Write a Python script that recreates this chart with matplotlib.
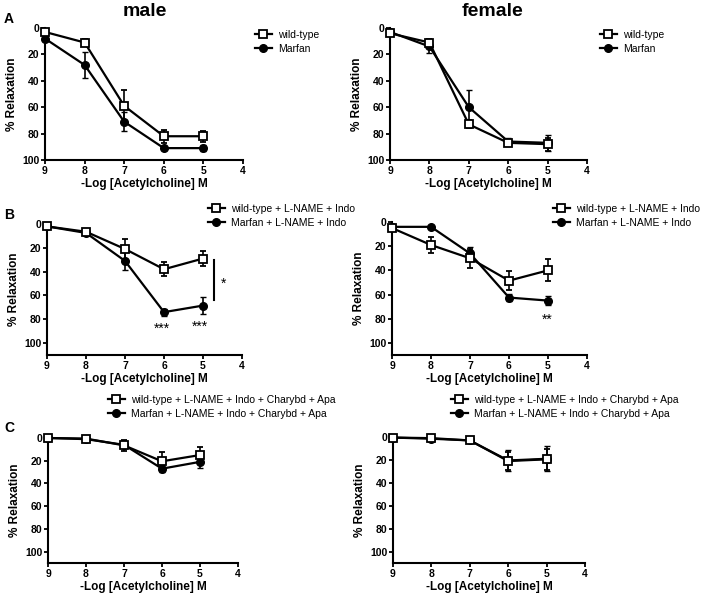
import matplotlib
matplotlib.use('Agg')
import matplotlib.pyplot as plt
from matplotlib.lines import Line2D

plt.rcParams['font.family'] = ['Liberation Sans', 'DejaVu Sans']

log_ach = [9, 8, 7, 6, 5]

# panel A, control
a_male_wt = [3, 11, 59, 82, 82]
a_male_wt_err = [2, 3, 12, 5, 4]
a_male_mfs = [8, 28, 71, 91, 91]
a_male_mfs_err = [2, 10, 7, 1.5, 2]
a_fem_wt = [4, 11, 73, 87, 88]
a_fem_wt_err = [2, 3, 3, 2, 5]
a_fem_mfs = [3, 14, 60, 86, 87]
a_fem_mfs_err = [2, 5, 13, 3, 6]

# panel B, + L-NAME + Indo
b_male_wt = [2, 6.5, 21, 38, 29]
b_male_wt_err = [1, 2, 8, 6, 6]
b_male_mfs = [2, 7.5, 31, 74, 68.5]
b_male_mfs_err = [1, 2, 8, 3, 7]
b_fem_wt = [5, 19, 30, 48.5, 40]
b_fem_wt_err = [2, 7, 8, 8, 9]
b_fem_mfs = [4, 4, 26, 62.5, 65]
b_fem_mfs_err = [1, 1, 5, 3, 4]

# panel C, + L-NAME + Indo + Charybd + Apa
c_male_wt = [0, 0.5, 6.5, 20.5, 15]
c_male_wt_err = [0.5, 1, 5, 8, 7]
c_male_mfs = [0, 1, 6, 27, 21]
c_male_mfs_err = [0.5, 1, 3, 3, 5]
c_fem_wt = [0.5, 1, 3, 21, 19.5]
c_fem_wt_err = [0.5, 1, 1, 8, 9]
c_fem_mfs = [0.5, 1.5, 3, 20.5, 19]
c_fem_mfs_err = [0.5, 1, 1, 9, 11]

labels_a = ['wild-type', 'Marfan']
labels_b = ['wild-type + L-NAME + Indo', 'Marfan + L-NAME + Indo']
labels_c = ['wild-type + L-NAME + Indo + Charybd + Apa',
            'Marfan + L-NAME + Indo + Charybd + Apa']

W, H = 709, 595
fig = plt.figure(figsize=(W / 100, H / 100), dpi=100)

wt_style = dict(color='black', lw=1.6, marker='s', ms=5.5, mfc='white',
                mec='black', mew=1.3)
mfs_style = dict(color='black', lw=1.6, marker='o', ms=5.5, mfc='black',
                 mec='black')


def px_axes(x0, x1, y_top, y_bot):
    return fig.add_axes([x0 / W, 1 - y_bot / H, (x1 - x0) / W, (y_bot - y_top) / H])


def draw(ax, wt, wt_err, mfs, mfs_err, ymax, labels, leg_xy):
    ax.errorbar(log_ach, mfs, yerr=mfs_err, capsize=2.5, elinewidth=1.2,
                zorder=3, clip_on=False, **mfs_style)
    ax.errorbar(log_ach, wt, yerr=wt_err, capsize=2.5, elinewidth=1.2,
                zorder=4, clip_on=False, **wt_style)
    ax.set_xlim(9, 4)
    ax.set_ylim(ymax, 0)
    ax.set_xticks([9, 8, 7, 6, 5, 4])
    ax.set_yticks([0, 20, 40, 60, 80, 100])
    for s in ['top', 'right']:
        ax.spines[s].set_visible(False)
    for s in ['left', 'bottom']:
        ax.spines[s].set_linewidth(1.5)
    ax.tick_params(direction='out', length=3, width=1.3, labelsize=7.5, pad=1)
    for t in ax.get_xticklabels() + ax.get_yticklabels():
        t.set_fontweight('bold')
    ax.set_xlabel('-Log [Acetylcholine] M', fontsize=8.5, fontweight='bold', labelpad=2)
    ax.set_ylabel('% Relaxation', fontsize=8.5, fontweight='bold', labelpad=3)
    handles = [Line2D([], [], **wt_style), Line2D([], [], **mfs_style)]
    ax.legend(handles, labels, loc='upper left',
              bbox_to_anchor=(leg_xy[0] / W, 1 - leg_xy[1] / H),
              bbox_transform=fig.transFigure, frameon=False, fontsize=7.5,
              handlelength=1.6, handletextpad=0.6, borderpad=0, borderaxespad=0,
              labelspacing=0.35)


ax1 = px_axes(45, 243, 28, 160)
draw(ax1, a_male_wt, a_male_wt_err, a_male_mfs, a_male_mfs_err, 100, labels_a, (255, 30))
ax2 = px_axes(390, 587, 28, 160)
draw(ax2, a_fem_wt, a_fem_wt_err, a_fem_mfs, a_fem_mfs_err, 100, labels_a, (600, 30))

ax3 = px_axes(47, 242, 224, 355)
draw(ax3, b_male_wt, b_male_wt_err, b_male_mfs, b_male_mfs_err, 110, labels_b, (208, 204))
ax4 = px_axes(392, 587, 222, 355)
draw(ax4, b_fem_wt, b_fem_wt_err, b_fem_mfs, b_fem_mfs_err, 110, labels_b, (553, 204))

ax5 = px_axes(48, 238, 438, 563)
draw(ax5, c_male_wt, c_male_wt_err, c_male_mfs, c_male_mfs_err, 110, labels_c, (108, 395))
ax6 = px_axes(393, 585, 437, 563)
draw(ax6, c_fem_wt, c_fem_wt_err, c_fem_mfs, c_fem_mfs_err, 110, labels_c, (451, 395))

# significance marks
ax3.plot([4.72, 4.72], [30, 64], color='black', lw=1.5, clip_on=False)
ax3.text(4.47, 50, '*', ha='center', va='center', fontsize=10)
ax3.text(6.05, 88, '***', ha='center', va='center', fontsize=10)
ax3.text(5.08, 86, '***', ha='center', va='center', fontsize=10)
ax4.text(5.03, 81, '**', ha='center', va='center', fontsize=10)

fig.text(145 / W, 1 - 11 / H, 'male', ha='center', va='center', fontsize=14, fontweight='bold')
fig.text(492 / W, 1 - 11 / H, 'female', ha='center', va='center', fontsize=14, fontweight='bold')
fig.text(4 / W, 1 - 19 / H, 'A', ha='left', va='center', fontsize=10, fontweight='bold')
fig.text(4 / W, 1 - 215 / H, 'B', ha='left', va='center', fontsize=10, fontweight='bold')
fig.text(4 / W, 1 - 428 / H, 'C', ha='left', va='center', fontsize=10, fontweight='bold')

fig.savefig('out.png', dpi=100)
